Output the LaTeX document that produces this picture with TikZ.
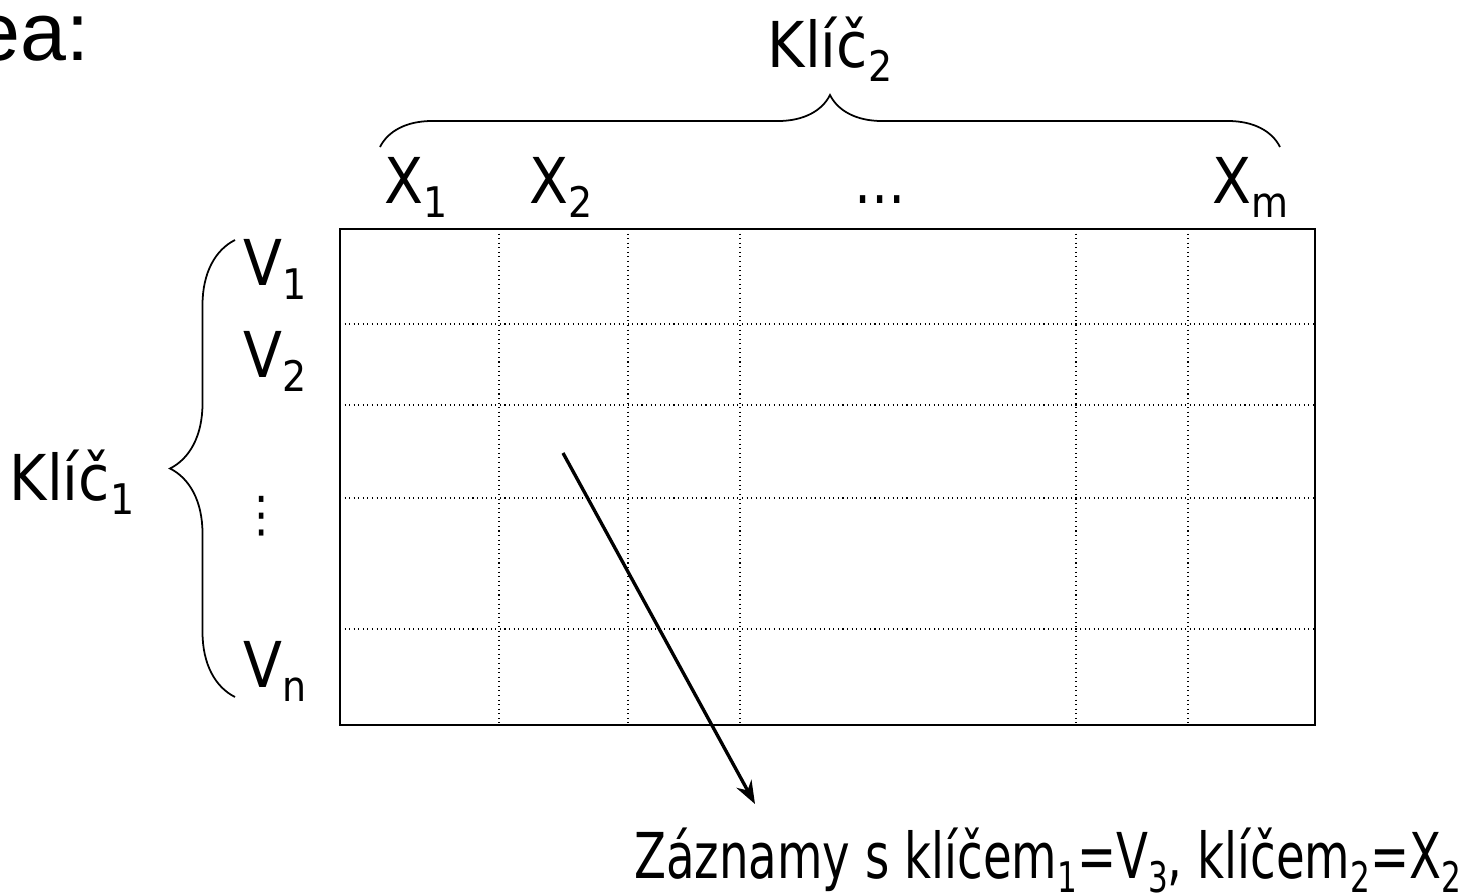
\documentclass[tikz,border=0pt]{standalone}
\usepackage{fontspec}
\setmainfont{DejaVu Sans Condensed}
\newfontfamily\titlefont{Liberation Sans}
\usetikzlibrary{decorations.pathreplacing,arrows.meta}
\newcommand{\lo}[1]{\raisebox{-8pt}{\fontsize{24}{24}\selectfont #1}}

\begin{document}
\begin{tikzpicture}[x=0.02cm, y=-0.02cm,
		lbl/.style={font=\fontsize{36}{44}\selectfont, inner sep=0pt, anchor=base},
		gridline/.style={dotted, line width=0.6pt},
		bracket/.style={decorate, decoration={brace, amplitude=#1}, line width=1pt}]
		%%%%% START %%%%%
		\useasboundingbox (0, 0) rectangle (1471, 896);
		
		\node[lbl, anchor=base east, font=\titlefont\fontsize{47}{56}\selectfont] (title) at (90, 60) {ea:};
		
		\draw[line width=1.3pt] (340, 229) rectangle (1315, 725);
		
		\draw[gridline] (499, 229) -- (499, 725);
		\draw[gridline] (628, 229) -- (628, 725);
		\draw[gridline] (740, 229) -- (740, 725);
		\draw[gridline] (1076, 229) -- (1076, 725);
		\draw[gridline] (1188, 229) -- (1188, 725);
		
		\draw[gridline] (340, 324) -- (1315, 324);
		\draw[gridline] (340, 405) -- (1315, 405);
		\draw[gridline] (340, 498) -- (1315, 498);
		\draw[gridline] (340, 629) -- (1315, 629);
		
		\node[lbl] (x1) at (416, 203) {X\lo{1}};
		\node[lbl] (x2) at (561, 203) {X\lo{2}};
		\node[lbl] (xdots) at (880, 203) {\scalebox{0.9}[1]{…}};
		\node[lbl] (xm) at (1250, 203) {X\lo{m}};
		
		\node[lbl] (v1) at (275, 285) {V\lo{1}};
		\node[lbl] (v2) at (275, 377) {V\lo{2}};
		\node[lbl, font=\fontsize{28}{30}\selectfont] (vdots) at (262, 531) {⋮};
		\node[lbl] (vn) at (275, 687) {V\lo{n}};
		
		\draw[bracket=1.04cm] (380, 147) -- (1280, 147);
		\node[lbl] (key2) at (830, 67) {Klíč\lo{2}};
		
		\draw[bracket=1.3cm] (235, 697) -- (235, 240);
		\node[lbl] (key1) at (72, 500) {Klíč\lo{1}};
		
		\coordinate (cell) at (563, 453);
		\coordinate (tip) at (755, 804);
		\draw[line width=1.9pt, -{Stealth[length=0.46cm, width=0.34cm]}] (cell) -- (tip);
		
		\node[lbl, anchor=base west] (note) at (634, 878) {\scalebox{0.82}[1]{Záznamy s klíčem\lo{1}=V\lo{3}, klíčem\lo{2}=X\lo{2}}};
		
		%%%%% END %%%%%
	\end{tikzpicture}
\end{document}
